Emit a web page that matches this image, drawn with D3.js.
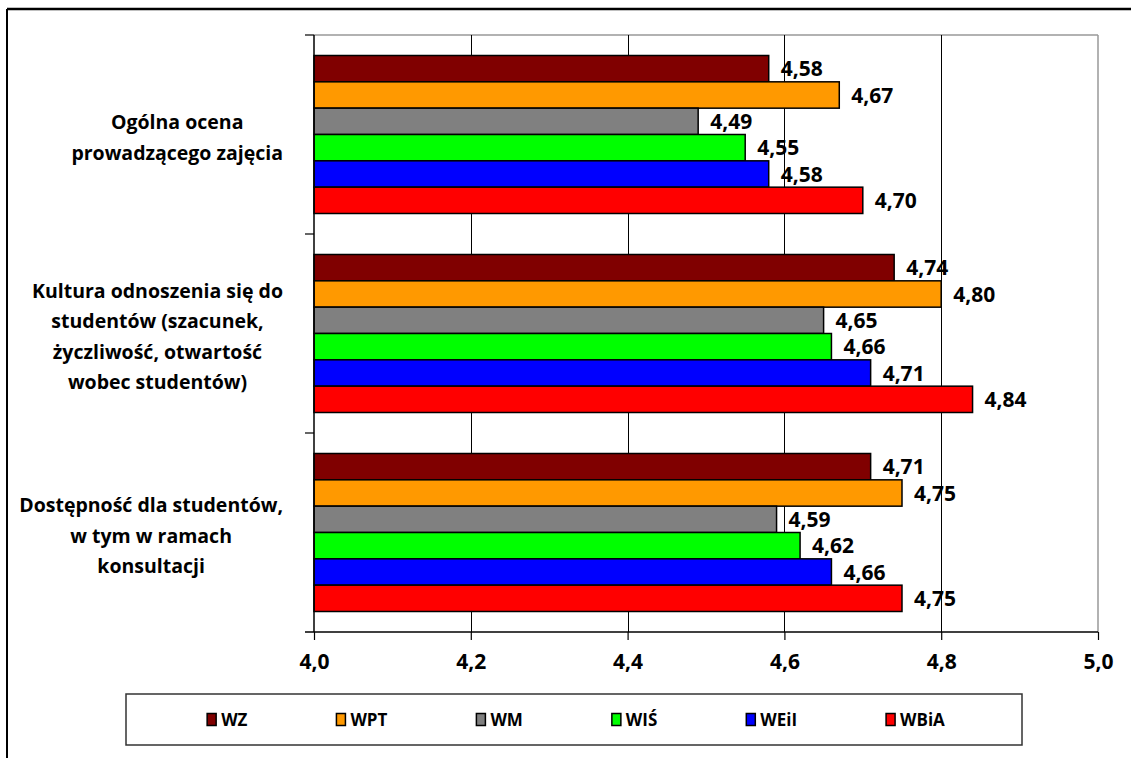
<!DOCTYPE html>
<html>
<head>
<meta charset="utf-8">
<script src="https://cdn.jsdelivr.net/npm/d3@7"></script>
<style>
html,body{margin:0;padding:0;background:#fff;}
svg{display:block;}
text{font-family:"Open Sans","Noto Sans",sans-serif;font-weight:bold;fill:#000;}
</style>
</head>
<body>
<svg id="chart" width="1131" height="758"></svg>
<script>
const categories = [
  ["Ogólna ocena", "prowadzącego zajęcia"],
  ["Kultura odnoszenia się do", "studentów (szacunek,", "życzliwość, otwartość", "wobec studentów)"],
  ["Dostępność dla studentów,", "w tym w ramach", "konsultacji"]
];
const seriesNames = ["WZ", "WPT", "WM", "WIŚ", "WEiI", "WBiA"];
const seriesColors = ["#800000", "#FF9900", "#808080", "#00FF00", "#0000FF", "#FF0000"];
const valuesWZ   = [4.58, 4.74, 4.71];
const valuesWPT  = [4.67, 4.80, 4.75];
const valuesWM   = [4.49, 4.65, 4.59];
const valuesWIS  = [4.55, 4.66, 4.62];
const valuesWEiI = [4.58, 4.71, 4.66];
const valuesWBiA = [4.70, 4.84, 4.75];
const xTicks = [4.0, 4.2, 4.4, 4.6, 4.8, 5.0];

const seriesValues = [valuesWZ, valuesWPT, valuesWM, valuesWIS, valuesWEiI, valuesWBiA];
const fmt = v => d3.format(".2f")(v).replace(".", ",");
const fmtTick = v => d3.format(".1f")(v).replace(".", ",");

const svg = d3.select("#chart");
const W = 1131, H = 758;
const plot = {l: 314, r: 1098, t: 35, b: 632};

// outer frame
svg.append("line").attr("x1", 7).attr("x2", W).attr("y1", 9).attr("y2", 9)
  .attr("stroke", "#000").attr("stroke-width", 2.5);
svg.append("line").attr("x1", 7).attr("x2", 7).attr("y1", 9).attr("y2", H)
  .attr("stroke", "#000").attr("stroke-width", 2);

const x = d3.scaleLinear().domain([4.0, 5.0]).range([plot.l, plot.r]);
const catIdx = d3.range(categories.length);
const y = d3.scaleBand().domain(catIdx).range([plot.t, plot.b]).paddingInner(0.206).paddingOuter(0.103);
const ySub = d3.scaleBand().domain(d3.range(seriesNames.length)).range([0, y.bandwidth()]);

// plot frame top/right (grey)
svg.append("line").attr("x1", plot.l).attr("x2", plot.r).attr("y1", plot.t).attr("y2", plot.t)
  .attr("stroke", "#999").attr("stroke-width", 1.5);
svg.append("line").attr("x1", plot.r).attr("x2", plot.r).attr("y1", plot.t).attr("y2", plot.b)
  .attr("stroke", "#999").attr("stroke-width", 1.5);

// gridlines
svg.append("g").selectAll("line").data(xTicks.filter(t => t > 4.0 && t < 5.0)).join("line")
  .attr("x1", d => Math.round(x(d)) + 0.5).attr("x2", d => Math.round(x(d)) + 0.5)
  .attr("y1", plot.t).attr("y2", plot.b)
  .attr("stroke", "#000").attr("stroke-width", 1);

// bars
const groups = svg.append("g").selectAll("g").data(catIdx).join("g")
  .attr("transform", c => `translate(0,${y(c)})`);
groups.each(function(c) {
  const g = d3.select(this);
  const rows = seriesNames.map((s, i) => ({i, v: seriesValues[i][c]}));
  g.selectAll("rect").data(rows).join("rect")
    .attr("x", x(4.0))
    .attr("y", d => ySub(d.i))
    .attr("width", d => x(d.v) - x(4.0))
    .attr("height", ySub.bandwidth())
    .attr("fill", d => seriesColors[d.i])
    .attr("stroke", "#000").attr("stroke-width", 1.5);
  g.selectAll("text").data(rows).join("text")
    .attr("x", d => x(d.v) + 12)
    .attr("y", d => ySub(d.i) + ySub.bandwidth() / 2)
    .attr("dy", "0.36em")
    .attr("font-size", 21)
    .text(d => fmt(d.v));
});

// x axis
const xAxis = d3.axisBottom(x).tickValues(xTicks).tickFormat(fmtTick).tickSize(8).tickPadding(14);
const gx = svg.append("g").attr("transform", `translate(0,${plot.b})`).call(xAxis);
gx.select(".domain").remove();
gx.append("line").attr("x1", plot.l - 9).attr("x2", plot.r).attr("y1", 0).attr("y2", 0)
  .attr("stroke", "#000").attr("stroke-width", 1.5);
gx.selectAll(".tick line").attr("stroke", "#000").attr("stroke-width", 1.2);
gx.selectAll(".tick text").attr("font-size", 21).attr("font-family", null).attr("fill", "#000");

// y axis
const yEdges = [plot.t, ...catIdx.map(c => y(c) + y.bandwidth() + y.step() * y.paddingInner() / 2)];
svg.append("line").attr("x1", plot.l).attr("x2", plot.l).attr("y1", plot.t).attr("y2", plot.b)
  .attr("stroke", "#000").attr("stroke-width", 1.5);
svg.append("g").selectAll("line").data(yEdges.slice(0, 3)).join("line")
  .attr("x1", plot.l - 9).attr("x2", plot.l).attr("y1", d => d).attr("y2", d => d)
  .attr("stroke", "#000").attr("stroke-width", 1.2);

// category labels
const lineH = 30.5;
const labelRight = 283;
catIdx.forEach(c => {
  const lines = categories[c];
  const cy = y(c) + y.bandwidth() / 2 + 3;
  const t = svg.append("text").attr("font-size", 19.5).attr("text-anchor", "middle");
  lines.forEach((ln, k) => {
    t.append("tspan").attr("x", 0)
      .attr("y", cy + (k - (lines.length - 1) / 2) * lineH)
      .attr("dy", "0.36em").text(ln);
  });
  let maxW = 0;
  t.selectAll("tspan").each(function() { maxW = Math.max(maxW, this.getComputedTextLength()); });
  const cx = labelRight - maxW / 2;
  t.selectAll("tspan").attr("x", cx);
});

// legend
const lg = {x: 126, y: 694, w: 896, h: 51};
svg.append("rect").attr("x", lg.x).attr("y", lg.y).attr("width", lg.w).attr("height", lg.h)
  .attr("fill", "#fff").attr("stroke", "#333").attr("stroke-width", 1.5);
const legG = svg.append("g");
const cyL = lg.y + lg.h / 2;
let cursor = 0;
seriesNames.forEach((s, i) => {
  const it = legG.append("g").attr("transform", `translate(${cursor},0)`);
  it.append("rect").attr("x", 0).attr("y", cyL - 6).attr("width", 9).attr("height", 12)
    .attr("fill", seriesColors[i]).attr("stroke", "#000").attr("stroke-width", 1.5);
  const tx = it.append("text").attr("x", 14).attr("y", cyL).attr("dy", "0.36em")
    .attr("font-size", 17).text(s);
  const tw = tx.node().getComputedTextLength();
  cursor += 14 + tw + (i < seriesNames.length - 1 ? 89 : 0);
});
const totalW = cursor;
legG.attr("transform", `translate(${lg.x + lg.w / 2 - totalW / 2 + 2},0)`);
</script>
</body>
</html>
